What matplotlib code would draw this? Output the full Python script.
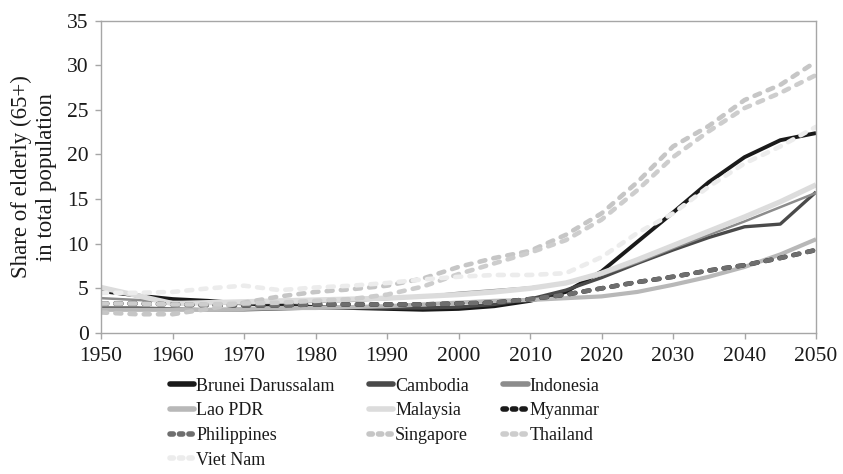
import matplotlib
matplotlib.use("Agg")
import matplotlib.pyplot as plt
from matplotlib.lines import Line2D

years = list(range(1950, 2051, 5))
brunei      = [4.7, 4.2, 3.8, 3.6, 3.3, 3.1, 2.9, 2.8, 2.7, 2.6, 2.7, 3.0, 3.6, 4.6, 6.9, 10.2, 13.5, 16.9, 19.7, 21.6, 22.4]
cambodia    = [2.8, 2.8, 2.7, 2.6, 2.6, 2.7, 2.8, 2.8, 2.8, 2.8, 2.9, 3.2, 3.8, 4.8, 6.2, 7.8, 9.3, 10.7, 11.9, 12.2, 15.8]
indonesia   = [3.9, 3.7, 3.5, 3.3, 3.3, 3.4, 3.5, 3.6, 3.8, 4.1, 4.5, 4.8, 5.1, 5.6, 6.5, 7.9, 9.5, 11.0, 12.5, 14.1, 15.7]
lao         = [2.6, 2.6, 2.6, 2.6, 2.7, 2.8, 2.8, 2.9, 3.0, 3.2, 3.4, 3.6, 3.7, 3.9, 4.1, 4.6, 5.4, 6.3, 7.4, 8.8, 10.5]
malaysia    = [5.1, 4.2, 3.3, 3.4, 3.5, 3.6, 3.7, 3.8, 3.9, 4.1, 4.3, 4.6, 5.0, 5.6, 6.7, 8.2, 9.8, 11.4, 13.0, 14.7, 16.6]
myanmar     = [3.3, 3.3, 3.2, 3.1, 3.1, 3.1, 3.2, 3.2, 3.2, 3.2, 3.3, 3.4, 3.8, 4.3, 5.0, 5.7, 6.3, 7.0, 7.6, 8.4, 9.3]
philippines = [3.3, 3.3, 3.2, 3.1, 3.1, 3.1, 3.2, 3.2, 3.2, 3.2, 3.3, 3.4, 3.8, 4.3, 5.0, 5.7, 6.3, 7.0, 7.6, 8.4, 9.3]
singapore   = [2.3, 2.1, 2.1, 2.7, 3.4, 4.1, 4.6, 4.9, 5.3, 6.1, 7.4, 8.4, 9.2, 11.0, 13.4, 16.9, 20.9, 23.2, 26.1, 27.8, 30.4]
thailand    = [3.3, 3.3, 3.2, 3.2, 3.3, 3.4, 3.6, 3.8, 4.3, 5.2, 6.6, 7.8, 9.0, 10.4, 12.7, 16.0, 19.7, 22.6, 25.2, 26.9, 28.9]
vietnam     = [4.5, 4.5, 4.6, 5.0, 5.3, 4.8, 5.1, 5.3, 5.6, 6.0, 6.3, 6.5, 6.5, 6.7, 8.5, 11.2, 13.4, 16.4, 19.0, 20.9, 23.1]

names = ["Brunei Darussalam", "Cambodia", "Indonesia", "Lao PDR", "Malaysia",
         "Myanmar", "Philippines", "Singapore", "Thailand", "Viet Nam"]
series = [brunei, cambodia, indonesia, lao, malaysia, myanmar, philippines,
          singapore, thailand, vietnam]
colors = ["#1a1a1a", "#4a4a4a", "#8c8c8c", "#b8b8b8", "#dcdcdc",
          "#1a1a1a", "#6e6e6e", "#c6c6c6", "#cdcdcd", "#ececec"]
dashed = [False, False, False, False, False, True, True, True, True, True]
widths = [2.8, 2.4, 1.8, 3.0, 3.8, 3.3, 3.3, 3.3, 3.3, 3.3]

plt.rcParams['font.family'] = ['Liberation Serif', 'DejaVu Serif']

fig = plt.figure(figsize=(8.43, 4.74), dpi=100)
ax = fig.add_axes([0.12, 0.2975, 0.848, 0.659])

for name, ys, c, d, w in zip(names, series, colors, dashed, widths):
    if d:
        ax.plot(years, ys, color=c, lw=w, linestyle=(0, (1.3, 1.8)),
                dash_capstyle='round', solid_joinstyle='round')
    else:
        ax.plot(years, ys, color=c, lw=w, solid_capstyle='butt', solid_joinstyle='round')

ax.set_xlim(1950, 2050)
ax.set_ylim(0, 35)
ax.set_xticks(range(1950, 2051, 10))
ax.set_yticks(range(0, 36, 5))
for s in ax.spines.values():
    s.set_color('#a6a6a6')
    s.set_linewidth(1.0)
ax.tick_params(axis='both', colors='#a6a6a6', labelcolor='#1a1a1a',
               labelsize=15.5, length=4, width=1.0, direction='out')
ax.tick_params(axis='x', pad=6)
ax.tick_params(axis='y', pad=5)
ax.set_ylabel("Share of elderly (65+)\nin total population", fontsize=16.5,
              color='#1a1a1a', linespacing=1.3, labelpad=7)

# legend, filled row-wise like the reference
handles = []
for name, c, d in zip(names, colors, dashed):
    if d:
        h = Line2D([0], [0], color=c, lw=4, linestyle=(0, (0.6, 1.1)),
                   dash_capstyle='round')
    else:
        h = Line2D([0], [0], color=c, lw=4, solid_capstyle='round')
    handles.append(h)
order = [0, 3, 6, 9, 1, 4, 7, 2, 5, 8]
leg = fig.legend([handles[i] for i in order], [names[i] for i in order],
                 loc='upper left', bbox_to_anchor=(0.2017, 0.203), ncol=3,
                 frameon=False, fontsize=13, handlelength=1.35,
                 handletextpad=0.1, columnspacing=1.9, labelspacing=0.42,
                 borderpad=0, borderaxespad=0)
for t in leg.get_texts():
    t.set_color('#1a1a1a')

fig.savefig("out.png", dpi=100)
